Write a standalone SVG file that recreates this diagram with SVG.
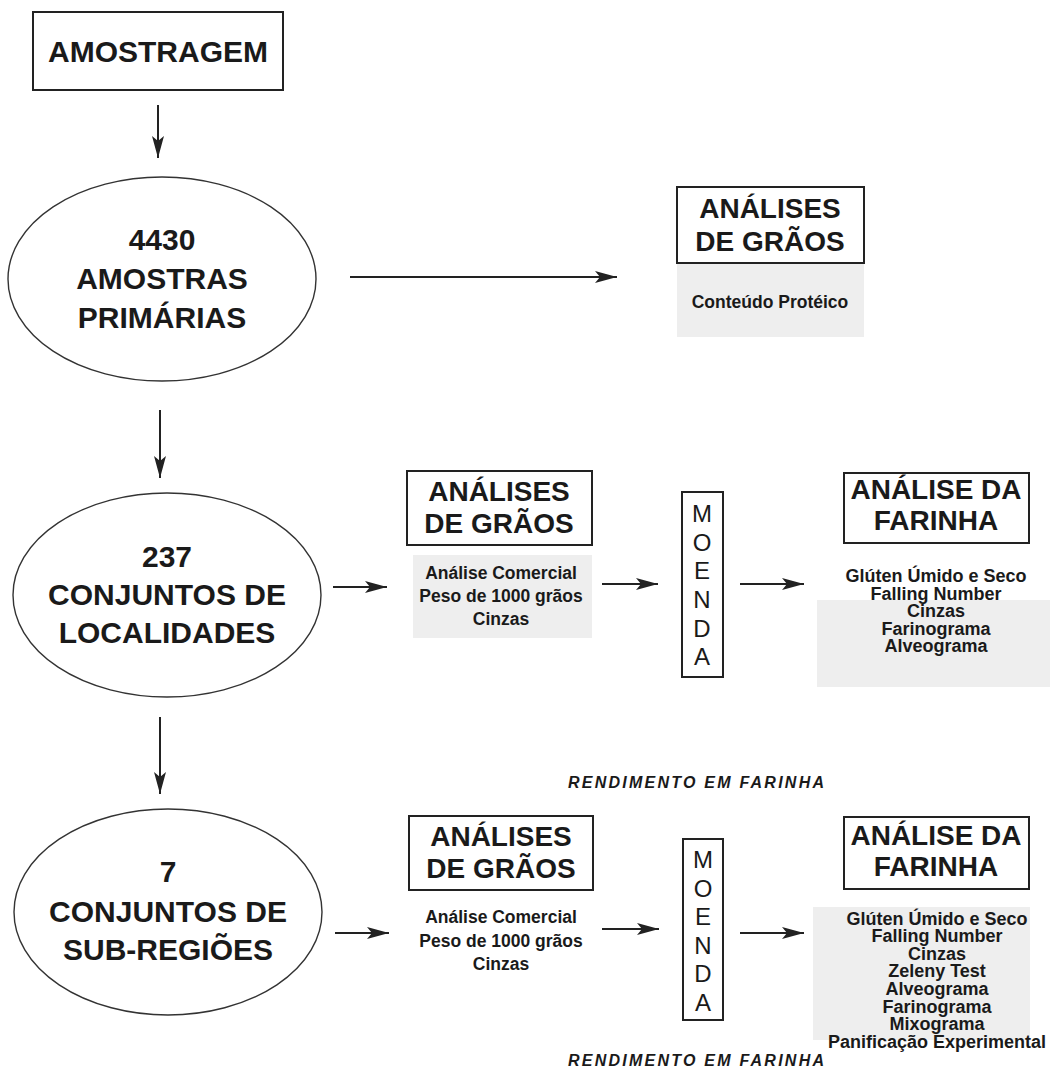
<svg xmlns="http://www.w3.org/2000/svg" width="1055" height="1079" viewBox="0 0 1055 1079">
<style>
.box{fill:none;stroke:#222;stroke-width:2}
.ell{fill:none;stroke:#333;stroke-width:1.4}
.shade{fill:#eeeeee}
.t{font-family:"Liberation Sans",Arial,sans-serif;fill:#1a1a1a;text-anchor:middle}
.big{font-size:30px;font-weight:bold}
.hd{font-size:28px;font-weight:bold}
.sm{font-size:17.5px;font-weight:bold}
.ls{font-size:18px;font-weight:bold}
.mo{font-size:24px}
.it{font-size:16px;font-weight:bold;font-style:italic;text-anchor:start}
.c{stroke:#222;stroke-width:2;fill:none}
</style>
<defs>
<marker id="ah" markerWidth="24" markerHeight="12" refX="22" refY="6" orient="auto" markerUnits="userSpaceOnUse">
<path d="M0,0 L22,6 L0,12 L5,6 Z" fill="#222"/>
</marker>
</defs>
<rect width="1055" height="1079" fill="#fff"/>

<g id="amostragem">
<rect class="box" x="33" y="12" width="250" height="78"/>
<text class="t big" x="158" y="62">AMOSTRAGEM</text>
</g>

<g id="amostras-primarias">
<ellipse class="ell" cx="162" cy="279" rx="154" ry="102"/>
<text class="t big" x="162" y="250">4430</text>
<text class="t big" x="162" y="289">AMOSTRAS</text>
<text class="t big" x="162" y="328">PRIMÁRIAS</text>
</g>

<g id="analises-graos-1">
<rect class="shade" x="677" y="263" width="187" height="74"/>
<rect class="box" x="677" y="187" width="187" height="76"/>
<text class="t hd" x="770" y="218">ANÁLISES</text>
<text class="t hd" x="770" y="251">DE GRÃOS</text>
<text class="t sm" x="770" y="308">Conteúdo Protéico</text>
</g>

<g id="conjuntos-localidades">
<ellipse class="ell" cx="167" cy="595" rx="154" ry="102"/>
<text class="t big" x="167" y="567">237</text>
<text class="t big" x="167" y="605">CONJUNTOS DE</text>
<text class="t big" x="167" y="643">LOCALIDADES</text>
</g>

<g id="analises-graos-2">
<rect class="shade" x="413" y="555" width="179" height="83"/>
<rect class="box" x="407" y="471" width="185" height="74"/>
<text class="t hd" x="499" y="501">ANÁLISES</text>
<text class="t hd" x="499" y="533">DE GRÃOS</text>
<text class="t sm" x="501" y="579">Análise Comercial</text>
<text class="t sm" x="501" y="602">Peso de 1000 grãos</text>
<text class="t sm" x="501" y="625">Cinzas</text>
</g>

<g id="moenda-1">
<rect class="box" x="682" y="492" width="41" height="185"/>
<text class="t mo" x="702" y="522">M</text>
<text class="t mo" x="702" y="551">O</text>
<text class="t mo" x="702" y="579">E</text>
<text class="t mo" x="702" y="608">N</text>
<text class="t mo" x="702" y="637">D</text>
<text class="t mo" x="702" y="665">A</text>
</g>

<g id="analise-farinha-1">
<rect class="shade" x="817" y="600" width="233" height="87"/>
<rect class="box" x="844" y="473" width="185" height="70"/>
<text class="t hd" x="936" y="499">ANÁLISE DA</text>
<text class="t hd" x="936" y="530">FARINHA</text>
<text class="t ls" x="936" y="582">Glúten Úmido e Seco</text>
<text class="t ls" x="936" y="600">Falling Number</text>
<text class="t ls" x="936" y="617">Cinzas</text>
<text class="t ls" x="936" y="635">Farinograma</text>
<text class="t ls" x="936" y="652">Alveograma</text>
</g>

<text class="t it" id="rendimento-1" x="568" y="788" textLength="256" lengthAdjust="spacing">RENDIMENTO EM FARINHA</text>

<g id="conjuntos-subregioes">
<ellipse class="ell" cx="168" cy="912" rx="154" ry="103"/>
<text class="t big" x="168" y="882">7</text>
<text class="t big" x="168" y="922">CONJUNTOS DE</text>
<text class="t big" x="168" y="960">SUB-REGIÕES</text>
</g>

<g id="analises-graos-3">
<rect class="box" x="409" y="816" width="184" height="74"/>
<text class="t hd" x="501" y="846">ANÁLISES</text>
<text class="t hd" x="501" y="878">DE GRÃOS</text>
<text class="t sm" x="501" y="923">Análise Comercial</text>
<text class="t sm" x="501" y="947">Peso de 1000 grãos</text>
<text class="t sm" x="501" y="970">Cinzas</text>
</g>

<g id="moenda-2">
<rect class="box" x="683" y="839" width="40" height="181"/>
<text class="t mo" x="703" y="868">M</text>
<text class="t mo" x="703" y="897">O</text>
<text class="t mo" x="703" y="925">E</text>
<text class="t mo" x="703" y="954">N</text>
<text class="t mo" x="703" y="982">D</text>
<text class="t mo" x="703" y="1011">A</text>
</g>

<g id="analise-farinha-2">
<rect class="shade" x="813" y="907" width="217" height="133"/>
<rect class="box" x="844" y="817" width="185" height="72"/>
<text class="t hd" x="936" y="845">ANÁLISE DA</text>
<text class="t hd" x="936" y="876">FARINHA</text>
<text class="t ls" x="937" y="925">Glúten Úmido e Seco</text>
<text class="t ls" x="937" y="942">Falling Number</text>
<text class="t ls" x="937" y="960">Cinzas</text>
<text class="t ls" x="937" y="977">Zeleny Test</text>
<text class="t ls" x="937" y="995">Alveograma</text>
<text class="t ls" x="937" y="1013">Farinograma</text>
<text class="t ls" x="937" y="1030">Mixograma</text>
<text class="t ls" x="937" y="1048">Panificação Experimental</text>
</g>

<text class="t it" id="rendimento-2" x="568" y="1066" textLength="256" lengthAdjust="spacing">RENDIMENTO EM FARINHA</text>

<g id="connectors">
<line class="c" x1="158" y1="105" x2="158" y2="158" marker-end="url(#ah)"/>
<line class="c" x1="350" y1="277" x2="617" y2="277" marker-end="url(#ah)"/>
<line class="c" x1="160" y1="410" x2="160" y2="478" marker-end="url(#ah)"/>
<line class="c" x1="333" y1="587" x2="387" y2="587" marker-end="url(#ah)"/>
<line class="c" x1="602" y1="584" x2="658" y2="584" marker-end="url(#ah)"/>
<line class="c" x1="740" y1="584" x2="804" y2="584" marker-end="url(#ah)"/>
<line class="c" x1="160" y1="717" x2="160" y2="794" marker-end="url(#ah)"/>
<line class="c" x1="335" y1="933" x2="389" y2="933" marker-end="url(#ah)"/>
<line class="c" x1="602" y1="929" x2="659" y2="929" marker-end="url(#ah)"/>
<line class="c" x1="740" y1="933" x2="804" y2="933" marker-end="url(#ah)"/>
</g>
</svg>
